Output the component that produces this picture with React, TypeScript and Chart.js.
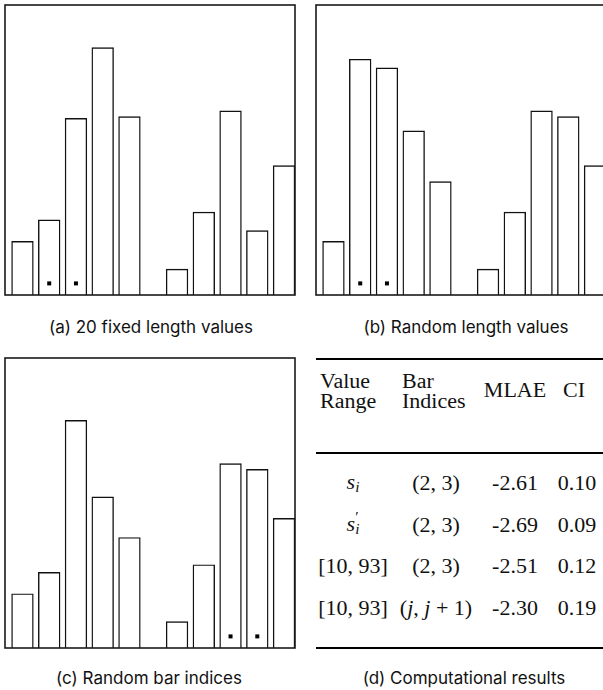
import React, { useEffect, useRef } from "react";
import { Chart, registerables } from "chart.js";

Chart.register(...registerables);

// ---------------- data ----------------
const barLabels = ["1", "2", "3", "4", "5", "6", "7", "8", "9", "10"];
const fixedLengthValues = [18.5, 25.9, 60.9, 85.3, 61.5, 8.9, 28.6, 63.5, 22.2, 44.6];
const randomLengthValues = [18.5, 81.3, 78.3, 56.6, 39.1, 8.9, 28.6, 63.5, 61.5, 44.6];
const randomIndexValues = [18.7, 26.1, 78.5, 52.1, 38.1, 9.1, 28.7, 63.6, 61.6, 44.7];
const fixedMarked = [2, 3];
const randomLengthMarked = [2, 3];
const randomIndexMarked = [8, 9];
const markerValue = 4;
const valueMax = 100;

const captions = [
  "(a) 20 fixed length values",
  "(b) Random length values",
  "(c) Random bar indices",
  "(d) Computational results",
];

const tableValueRanges = ["s_i", "s_i'", "[10, 93]", "[10, 93]"];
const tableBarIndices = ["(2, 3)", "(2, 3)", "(2, 3)", "(j, j + 1)"];
const tableMLAE = ["-2.61", "-2.69", "-2.51", "-2.30"];
const tableCI = ["0.10", "0.09", "0.12", "0.19"];

// ---------------- layout constants ----------------
const GROUP_GAP = 0.78; // extra slot gap between the two groups of five bars
const X_MIN = -0.653;
const X_MAX = 10.19;
const BAR_THICKNESS = 21.7;
const CANVAS = 292;

const slotOf = (i: number) => i + (i >= 5 ? GROUP_GAP : 0);

const framePlugin = {
  id: "frameBox",
  afterDatasetsDraw(chart: any) {
    const { ctx, chartArea } = chart;
    const { left, top, right, bottom } = chartArea;
    ctx.save();
    ctx.strokeStyle = "#1a1a1a";
    ctx.lineWidth = 1.6;
    ctx.strokeRect(left, top, right - left, bottom - top);
    ctx.restore();
  },
};

function BarPanel({ values, marked, left, top }: { values: number[]; marked: number[]; left: number; top: number }) {
  const ref = useRef<HTMLCanvasElement | null>(null);
  useEffect(() => {
    if (!ref.current) return;
    const chart = new Chart(ref.current, {
      type: "bar",
      data: {
        labels: barLabels,
        datasets: [
          {
            type: "scatter",
            data: marked.map((m) => ({ x: slotOf(m - 1), y: markerValue })),
            pointStyle: "rect",
            pointRadius: 2.83,
            pointHoverRadius: 2.83,
            pointBorderWidth: 0,
            backgroundColor: "#000",
            borderColor: "#000",
            showLine: false,
            order: 0,
          } as any,
          {
            type: "bar",
            data: values.map((v, i) => ({ x: slotOf(i), y: v })),
            backgroundColor: "#fff",
            borderColor: "#111",
            borderWidth: 1.4,
            barThickness: BAR_THICKNESS,
            order: 1,
          } as any,
        ],
      },
      options: {
        responsive: false,
        animation: false,
        devicePixelRatio: 1,
        layout: { padding: 1, autoPadding: false },
        plugins: { legend: { display: false }, tooltip: { enabled: false } },
        scales: {
          x: { type: "linear", min: X_MIN, max: X_MAX, display: false, offset: false },
          y: { type: "linear", min: 0, max: valueMax, display: false },
        },
      } as any,
      plugins: [framePlugin],
    });
    return () => chart.destroy();
  }, []);
  return (
    <canvas
      ref={ref}
      width={CANVAS}
      height={CANVAS}
      style={{ position: "absolute", left, top, width: CANVAS, height: CANVAS }}
    />
  );
}

const captionStyle = (cx: number, cy: number): React.CSSProperties => ({
  position: "absolute",
  left: cx,
  top: cy,
  transform: "translate(-50%, -50%)",
  fontFamily: "Inter, sans-serif",
  fontSize: 17,
  color: "#111",
  whiteSpace: "nowrap",
});

const serif = "'Liberation Serif', 'Times New Roman', serif";
const TABLE_FONT = 20;
const TABLE_STRETCH = 1.1;

function TCell({ cx, cy, children, align = "center" }: { cx: number; cy: number; children: React.ReactNode; align?: string }) {
  const tr =
    align === "left"
      ? `translate(0, -50%) scaleX(${TABLE_STRETCH})`
      : `translate(-50%, -50%) scaleX(${TABLE_STRETCH})`;
  return (
    <div
      style={{
        position: "absolute",
        left: cx,
        top: cy,
        transform: tr,
        transformOrigin: align === "left" ? "left center" : "center center",
        fontFamily: serif,
        fontSize: TABLE_FONT,
        color: "#111",
        whiteSpace: "nowrap",
        lineHeight: 1,
      }}
    >
      {children}
    </div>
  );
}

function renderRange(s: string) {
  if (s === "s_i") {
    return (
      <span style={{ fontStyle: "italic", display: "inline-flex", alignItems: "flex-start" }}>
        s
        <span style={{ fontSize: "0.7em", lineHeight: 1, marginTop: 9 }}>i</span>
      </span>
    );
  }
  if (s === "s_i'") {
    return (
      <span style={{ fontStyle: "italic", display: "inline-flex", alignItems: "flex-start" }}>
        s
        <span style={{ display: "inline-flex", flexDirection: "column", fontSize: "0.7em", lineHeight: 1 }}>
          <span style={{ fontStyle: "normal", marginTop: -3, height: 12 }}>′</span>
          <span>i</span>
        </span>
      </span>
    );
  }
  return s;
}

function renderIndices(s: string) {
  if (s.includes("j")) {
    return (
      <span>
        (<i>j</i>, <i>j</i> + 1)
      </span>
    );
  }
  return s;
}

function ResultsTable() {
  const rowY = [483, 525, 566, 608];
  const colRange = 353;
  const colIdx = 436;
  const colMLAE = 515;
  const colCI = 577;
  return (
    <>
      <div style={{ position: "absolute", left: 316, top: 357.5, width: 300, height: 2, background: "#000" }} />
      <div style={{ position: "absolute", left: 316, top: 452, width: 300, height: 1.6, background: "#000" }} />
      <div style={{ position: "absolute", left: 316, top: 647, width: 300, height: 2, background: "#000" }} />
      <TCell cx={320} cy={381} align="left">Value</TCell>
      <TCell cx={320} cy={401} align="left">Range</TCell>
      <TCell cx={402} cy={381} align="left">Bar</TCell>
      <TCell cx={402} cy={401} align="left">Indices</TCell>
      <TCell cx={colMLAE} cy={390}>MLAE</TCell>
      <TCell cx={colCI - 3} cy={390}>CI</TCell>
      {rowY.map((y, r) => (
        <React.Fragment key={r}>
          <TCell cx={colRange} cy={y}>{renderRange(tableValueRanges[r])}</TCell>
          <TCell cx={colIdx} cy={y}>{renderIndices(tableBarIndices[r])}</TCell>
          <TCell cx={colMLAE} cy={y}>{tableMLAE[r]}</TCell>
          <TCell cx={colCI} cy={y}>{tableCI[r]}</TCell>
        </React.Fragment>
      ))}
    </>
  );
}

export default function App() {
  useEffect(() => {
    document.body.style.margin = "0";
  }, []);
  return (
    <div style={{ position: "absolute", left: 0, top: 0, width: 603, height: 690, overflow: "hidden", background: "#fff" }}>
      <BarPanel values={fixedLengthValues} marked={fixedMarked} left={4} top={4} />
      <BarPanel values={randomLengthValues} marked={randomLengthMarked} left={315} top={4} />
      <BarPanel values={randomIndexValues} marked={randomIndexMarked} left={4} top={357} />
      <ResultsTable />
      <div style={captionStyle(151, 327)}>{captions[0]}</div>
      <div style={captionStyle(466, 327)}>{captions[1]}</div>
      <div style={captionStyle(149, 678)}>{captions[2]}</div>
      <div style={captionStyle(464, 678)}>{captions[3]}</div>
    </div>
  );
}
